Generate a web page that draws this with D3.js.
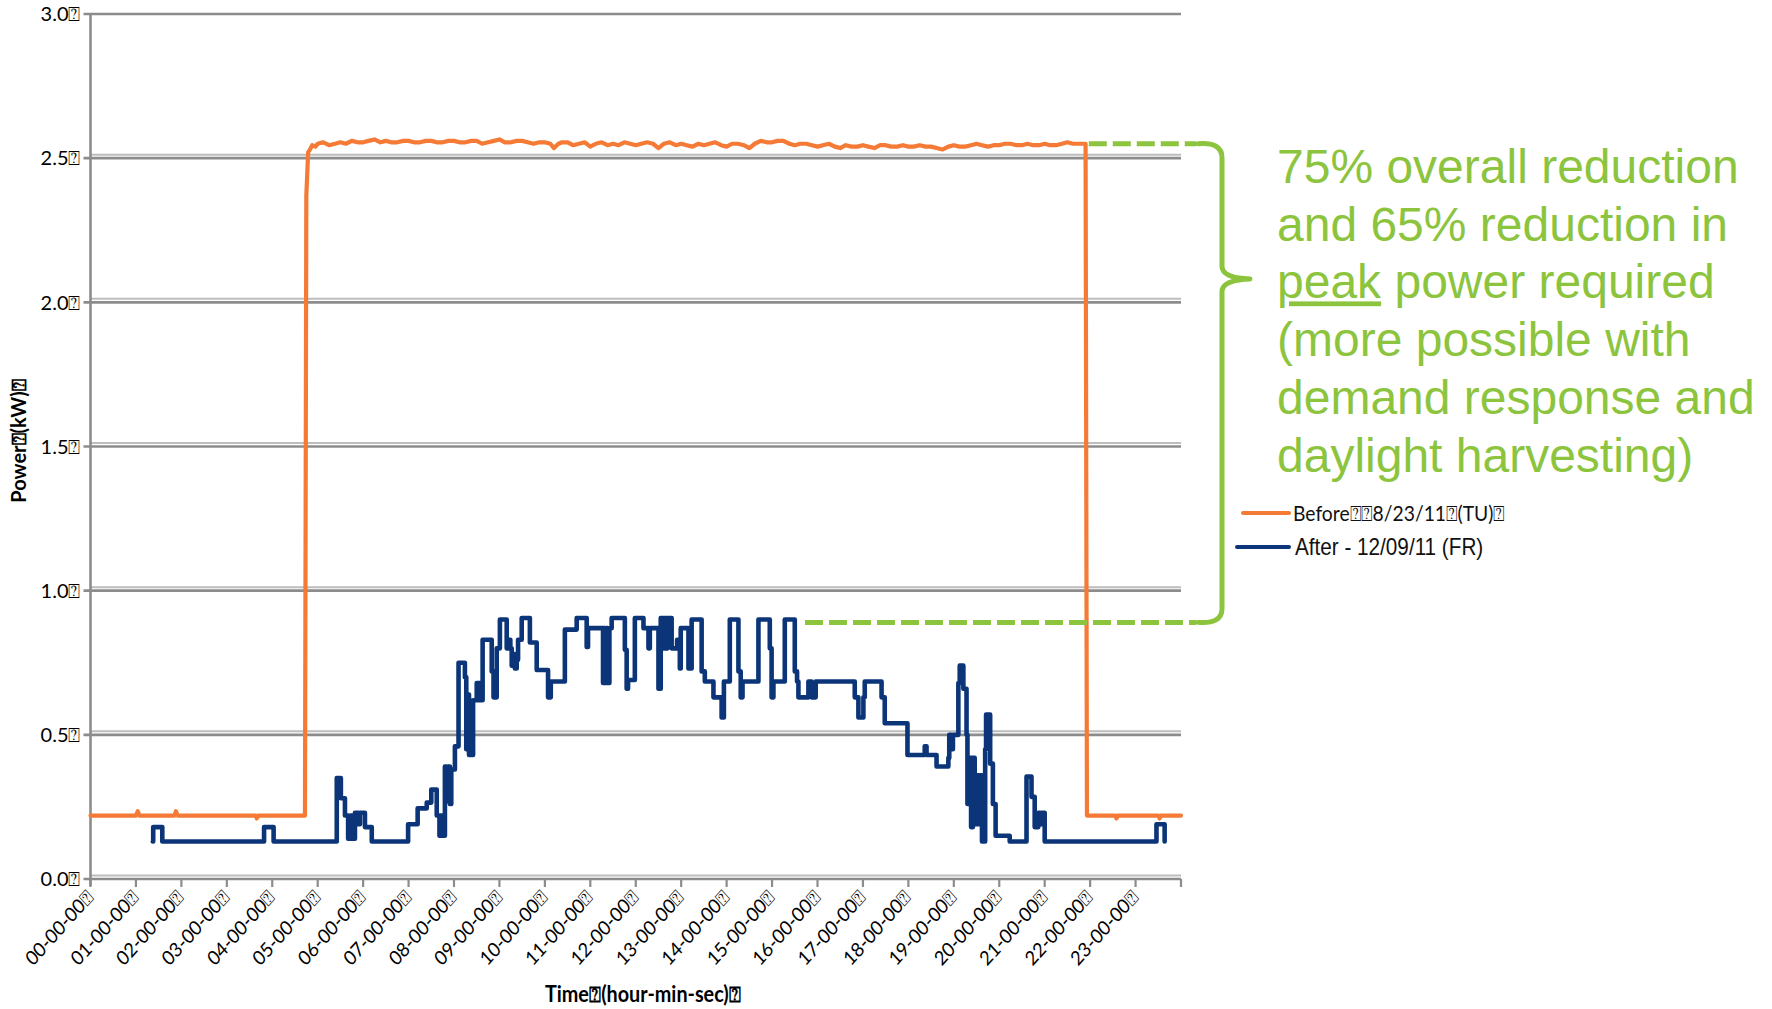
<!DOCTYPE html>
<html>
<head>
<meta charset="utf-8">
<script src="https://cdn.jsdelivr.net/npm/d3@7"></script>
<style>
  html, body { margin: 0; padding: 0; background: #ffffff; }
  svg { display: block; }
</style>
</head>
<body>
<svg id="chart" width="1772" height="1009"></svg>
<script>
// ---- data -------------------------------------------------------------
// x ticks (hours of the day) and their labels
const hourTicks = [0,1,2,3,4,5,6,7,8,9,10,11,12,13,14,15,16,17,18,19,20,21,22,23,24];
const hourLabels = ["00-00-00⍰","01-00-00⍰","02-00-00⍰","03-00-00⍰","04-00-00⍰","05-00-00⍰",
  "06-00-00⍰","07-00-00⍰","08-00-00⍰","09-00-00⍰","10-00-00⍰","11-00-00⍰","12-00-00⍰",
  "13-00-00⍰","14-00-00⍰","15-00-00⍰","16-00-00⍰","17-00-00⍰","18-00-00⍰","19-00-00⍰",
  "20-00-00⍰","21-00-00⍰","22-00-00⍰","23-00-00⍰"];

// y ticks (kW) and labels
const kwTicks = [0, 0.5, 1.0, 1.5, 2.0, 2.5, 3.0];
const kwLabels = ["0.0⍰","0.5⍰","1.0⍰","1.5⍰","2.0⍰","2.5⍰","3.0⍰"];

// Before retrofit, 8/23/11 (TU): [hour, kW]
const beforeSeries = [
  [0,0.22],[1.00,0.22],[1.04,0.235],[1.08,0.22],[1.85,0.22],[1.88,0.235],[1.92,0.22],
  [3.63,0.22],[3.66,0.21],[3.69,0.22],[4.72,0.22],[4.75,2.37],[4.79,2.52],[4.83,2.53],
  [4.88,2.545],[4.95,2.54],[5.00,2.55],[5.12,2.555],[5.25,2.545],[5.38,2.55],[5.50,2.555],
  [5.62,2.55],[5.75,2.56],[5.88,2.555],[6.00,2.555],[6.12,2.56],[6.25,2.565],[6.38,2.555],
  [6.50,2.56],[6.62,2.555],[6.75,2.555],[6.88,2.56],[7.00,2.56],[7.12,2.555],[7.25,2.555],
  [7.38,2.56],[7.50,2.56],[7.62,2.555],[7.75,2.555],[7.88,2.56],[8.00,2.56],[8.12,2.555],
  [8.25,2.555],[8.38,2.56],[8.50,2.56],[8.62,2.55],[8.75,2.555],[8.88,2.56],[9.00,2.565],
  [9.12,2.555],[9.25,2.555],[9.38,2.56],[9.50,2.56],[9.62,2.555],[9.75,2.55],[9.88,2.555],
  [10.00,2.555],[10.12,2.55],[10.20,2.535],[10.30,2.55],[10.38,2.555],[10.50,2.555],
  [10.62,2.545],[10.75,2.55],[10.88,2.555],[11.00,2.54],[11.12,2.55],[11.25,2.555],
  [11.38,2.545],[11.50,2.55],[11.62,2.545],[11.75,2.555],[11.88,2.55],[12.00,2.545],
  [12.12,2.55],[12.25,2.555],[12.38,2.55],[12.50,2.535],[12.62,2.55],[12.75,2.555],
  [12.88,2.545],[13.00,2.55],[13.12,2.545],[13.25,2.54],[13.38,2.55],[13.50,2.545],
  [13.62,2.55],[13.75,2.555],[13.88,2.545],[14.00,2.54],[14.12,2.55],[14.25,2.55],
  [14.38,2.545],[14.50,2.535],[14.62,2.55],[14.75,2.56],[14.88,2.555],[15.00,2.555],
  [15.12,2.56],[15.25,2.56],[15.38,2.55],[15.50,2.545],[15.62,2.55],[15.75,2.55],
  [15.88,2.545],[16.00,2.54],[16.12,2.545],[16.25,2.55],[16.38,2.54],[16.50,2.535],
  [16.62,2.545],[16.75,2.54],[16.88,2.54],[17.00,2.545],[17.12,2.54],[17.25,2.535],
  [17.38,2.545],[17.50,2.545],[17.62,2.54],[17.75,2.54],[17.88,2.545],[18.00,2.54],
  [18.12,2.54],[18.25,2.545],[18.38,2.54],[18.50,2.54],[18.62,2.535],[18.75,2.53],
  [18.88,2.54],[19.00,2.545],[19.12,2.54],[19.25,2.54],[19.38,2.545],[19.50,2.55],
  [19.62,2.545],[19.75,2.54],[19.88,2.545],[20.00,2.545],[20.12,2.55],[20.25,2.55],
  [20.38,2.545],[20.50,2.545],[20.62,2.55],[20.75,2.545],[20.88,2.545],[21.00,2.55],
  [21.12,2.545],[21.25,2.545],[21.38,2.55],[21.50,2.555],[21.62,2.55],[21.75,2.55],
  [21.90,2.55],[21.93,0.22],[22.55,0.22],[22.58,0.21],[22.61,0.22],[23.50,0.22],
  [23.53,0.21],[23.56,0.22],[24.00,0.22]
];

// After retrofit, 12/09/11 (FR): step series [start hour, kW]
const afterSeries = [
  [1.37,0.13],[1.38,0.18],[1.58,0.13],[3.82,0.18],[4.03,0.13],
  [5.42,0.35],[5.51,0.28],[5.60,0.22],[5.67,0.14],[5.72,0.22],[5.75,0.14],[5.82,0.23],
  [5.90,0.19],[5.93,0.23],[6.04,0.18],[6.19,0.13],
  [6.99,0.19],[7.20,0.245],[7.40,0.265],[7.50,0.31],[7.62,0.22],[7.68,0.15],[7.72,0.22],
  [7.75,0.15],[7.80,0.39],[7.84,0.27],[7.87,0.39],[7.91,0.26],[7.94,0.38],[8.02,0.46],
  [8.10,0.75],[8.24,0.70],[8.27,0.45],[8.30,0.64],[8.33,0.43],[8.37,0.60],[8.40,0.43],
  [8.42,0.62],[8.50,0.68],[8.57,0.62],[8.63,0.83],[8.83,0.72],[8.87,0.63],[8.94,0.80],
  [9.01,0.90],[9.16,0.80],[9.20,0.83],[9.24,0.80],[9.27,0.74],[9.31,0.78],[9.34,0.73],
  [9.38,0.76],[9.41,0.83],[9.49,0.905],[9.67,0.82],[9.82,0.725],[10.07,0.63],[10.13,0.685],
  [10.44,0.865],[10.70,0.905],[10.92,0.805],[10.95,0.87],[11.28,0.68],[11.30,0.87],
  [11.32,0.68],[11.36,0.87],[11.38,0.68],[11.42,0.87],[11.47,0.905],[11.76,0.795],
  [11.80,0.66],[11.83,0.69],[11.98,0.905],[12.17,0.87],[12.28,0.80],[12.31,0.87],
  [12.50,0.66],[12.55,0.905],[12.62,0.80],[12.64,0.905],[12.68,0.80],[12.70,0.905],
  [12.79,0.80],[12.91,0.83],[12.97,0.73],[12.99,0.87],[13.16,0.73],[13.23,0.90],
  [13.45,0.72],[13.52,0.685],[13.71,0.63],[13.89,0.56],[13.94,0.685],[14.07,0.90],
  [14.26,0.72],[14.31,0.63],[14.35,0.685],[14.70,0.90],[14.95,0.80],[14.99,0.63],
  [15.03,0.685],[15.28,0.90],[15.50,0.72],[15.55,0.685],[15.58,0.63],[15.80,0.685],
  [15.87,0.63],[15.96,0.685],[16.82,0.63],[16.90,0.56],[17.01,0.63],[17.04,0.685],
  [17.41,0.63],[17.48,0.54],[17.98,0.43],[18.36,0.46],[18.40,0.43],[18.62,0.39],
  [18.88,0.42],[18.90,0.50],[18.95,0.45],[18.98,0.50],[19.10,0.68],[19.13,0.74],
  [19.21,0.66],[19.28,0.50],[19.30,0.26],[19.35,0.42],[19.38,0.18],[19.42,0.42],
  [19.46,0.19],[19.50,0.36],[19.55,0.19],[19.58,0.36],[19.62,0.13],[19.69,0.45],
  [19.71,0.57],[19.80,0.40],[19.86,0.26],[19.92,0.15],[20.23,0.13],[20.60,0.355],
  [20.71,0.285],[20.78,0.18],[20.86,0.23],[20.90,0.19],[20.93,0.23],[21.00,0.13],
  [23.46,0.19],[23.64,0.13]
];

// peak levels marked by the dashed guides
const peakBefore = 2.55;
const peakAfter = 0.89;

const legendItems = [
  { name: "Before⍰⍰8/23/11⍰(TU)⍰", color: "#f47a36" },
  { name: "After - 12/09/11 (FR)", color: "#0b3578" }
];

const noteLines = [
  ["75% overall reduction"],
  ["and 65% reduction in"],
  ["peak", " power required"],
  ["(more possible with"],
  ["demand response and"],
  ["daylight harvesting)"]
];

// ---- drawing ----------------------------------------------------------
const svg = d3.select("#chart");
const plotLeft = 90.5, plotRight = 1181, plotTop = 14, plotBottom = 879;
const squeeze = 0.9;   // chart lettering is slightly condensed

const x = d3.scaleLinear().domain([0, 24]).range([plotLeft, plotRight]);
const y = d3.scaleLinear().domain([0, 3]).range([plotBottom, plotTop]);

const grid = svg.append("g");
kwTicks.forEach(v => {
  const yy = y(v);
  if (v < 3) {
    grid.append("line").attr("x1", plotLeft).attr("x2", plotRight)
      .attr("y1", yy - 3.5).attr("y2", yy - 3.5)
      .attr("stroke", "#bdbdbd").attr("stroke-width", 2);
  }
  grid.append("line").attr("x1", plotLeft - 7).attr("x2", plotRight)
    .attr("y1", yy).attr("y2", yy)
    .attr("stroke", "#8c8c8c").attr("stroke-width", 2.6);
});

// y axis line
grid.append("line").attr("x1", plotLeft).attr("x2", plotLeft)
  .attr("y1", plotTop).attr("y2", plotBottom + 7)
  .attr("stroke", "#8c8c8c").attr("stroke-width", 2.6);

// x ticks
hourTicks.forEach(h => {
  grid.append("line").attr("x1", x(h)).attr("x2", x(h))
    .attr("y1", plotBottom).attr("y2", plotBottom + 8)
    .attr("stroke", "#8c8c8c").attr("stroke-width", 2.2);
});

// y tick labels
svg.append("g").selectAll("text").data(kwTicks).join("text")
  .attr("x", plotLeft - 10).attr("y", d => y(d))
  .attr("dy", "0.36em")
  .attr("text-anchor", "end")
  .attr("font-family", "Lato, 'Open Sans', sans-serif")
  .attr("font-size", 20).attr("fill", "#000")
  .text((d, i) => kwLabels[i]);

// x tick labels, rotated
svg.append("g").selectAll("text").data(hourLabels).join("text")
  .attr("transform", (d, i) => `translate(${x(i) - 1},${plotBottom + 15}) scale(${squeeze},1) rotate(-45)`)
  .attr("text-anchor", "end")
  .attr("dy", "0.35em")
  .attr("font-family", "Lato, 'Open Sans', sans-serif")
  .attr("font-size", 20).attr("fill", "#000")
  .text(d => d);

// axis titles
svg.append("text")
  .attr("transform", "translate(26,441) rotate(-90)")
  .attr("text-anchor", "middle")
  .attr("font-family", "Lato, 'Open Sans', sans-serif")
  .attr("font-weight", "bold").attr("font-size", 20).attr("fill", "#000")
  .text("Power⍰(kW)⍰");

svg.append("text")
  .attr("transform", `translate(643,1002) scale(${squeeze},1)`)
  .attr("text-anchor", "middle")
  .attr("font-family", "Lato, 'Open Sans', sans-serif")
  .attr("font-weight", "bold").attr("font-size", 22).attr("fill", "#000")
  .text("Time⍰(hour-min-sec)⍰");

// series
const lineBefore = d3.line().x(d => x(d[0])).y(d => y(d[1]));
const lineAfter = d3.line().x(d => x(d[0])).y(d => y(d[1])).curve(d3.curveStepAfter);

svg.append("path").datum(beforeSeries)
  .attr("d", lineBefore)
  .attr("fill", "none").attr("stroke", legendItems[0].color)
  .attr("stroke-width", 4.2).attr("stroke-linejoin", "round").attr("stroke-linecap", "round");

svg.append("path").datum(afterSeries)
  .attr("d", lineAfter)
  .attr("fill", "none").attr("stroke", legendItems[1].color)
  .attr("stroke-width", 4.6).attr("stroke-linejoin", "round").attr("stroke-linecap", "round");

// annotation: dashed peak guides and brace
const green = "#8cc43e";
const braceX = 1222, braceL = 1196;
svg.append("line")
  .attr("x1", x(21.97)).attr("x2", braceL)
  .attr("y1", y(peakBefore)).attr("y2", y(peakBefore))
  .attr("stroke", green).attr("stroke-width", 5).attr("stroke-dasharray", "18,6");
svg.append("line")
  .attr("x1", 805).attr("x2", braceL)
  .attr("y1", y(peakAfter)).attr("y2", y(peakAfter))
  .attr("stroke", green).attr("stroke-width", 5).attr("stroke-dasharray", "18,6");

const yTop = y(peakBefore), yBot = y(peakAfter), yMid = 279;
const brace = d3.path();
brace.moveTo(braceL + 2, yTop);
brace.quadraticCurveTo(braceX, yTop - 2, braceX, yTop + 14);
brace.lineTo(braceX, yMid - 12);
brace.quadraticCurveTo(braceX + 1, yMid - 1, braceX + 28, yMid);
brace.moveTo(braceX + 28, yMid);
brace.quadraticCurveTo(braceX + 1, yMid + 1, braceX, yMid + 12);
brace.lineTo(braceX, yBot - 14);
brace.quadraticCurveTo(braceX, yBot + 2, braceL + 2, yBot);
svg.append("path").attr("d", brace.toString())
  .attr("fill", "none").attr("stroke", green).attr("stroke-width", 5)
  .attr("stroke-linecap", "round").attr("stroke-linejoin", "round");

// annotation text
const note = svg.append("text")
  .attr("font-family", "'Liberation Sans', Arial, sans-serif")
  .attr("font-size", 48).attr("fill", green);
noteLines.forEach((parts, i) => {
  parts.forEach((p, j) => {
    const t = note.append("tspan").text(p);
    if (j === 0) t.attr("x", 1277).attr("y", 183 + i * 57.7);
    if (p === "peak") t.attr("text-decoration", "underline");
  });
});

// legend
const legend = svg.append("g");
legendItems.forEach((item, i) => {
  const ly = 513 + i * 34;
  legend.append("line")
    .attr("x1", i === 0 ? 1243 : 1237).attr("x2", 1289)
    .attr("y1", ly).attr("y2", ly)
    .attr("stroke", item.color).attr("stroke-width", 4).attr("stroke-linecap", "round");
  legend.append("text")
    .attr("transform", `translate(${i === 0 ? 1293 : 1295},${ly}) scale(${i === 0 ? 0.92 : 0.9},1)`)
    .attr("dy", "0.36em")
    .attr("font-family", i === 0 ? "Lato, sans-serif" : "'Liberation Sans', Arial, sans-serif")
    .attr("font-size", i === 0 ? 21 : 23)
    .attr("fill", "#111")
    .text(item.name);
});
</script>
</body>
</html>
